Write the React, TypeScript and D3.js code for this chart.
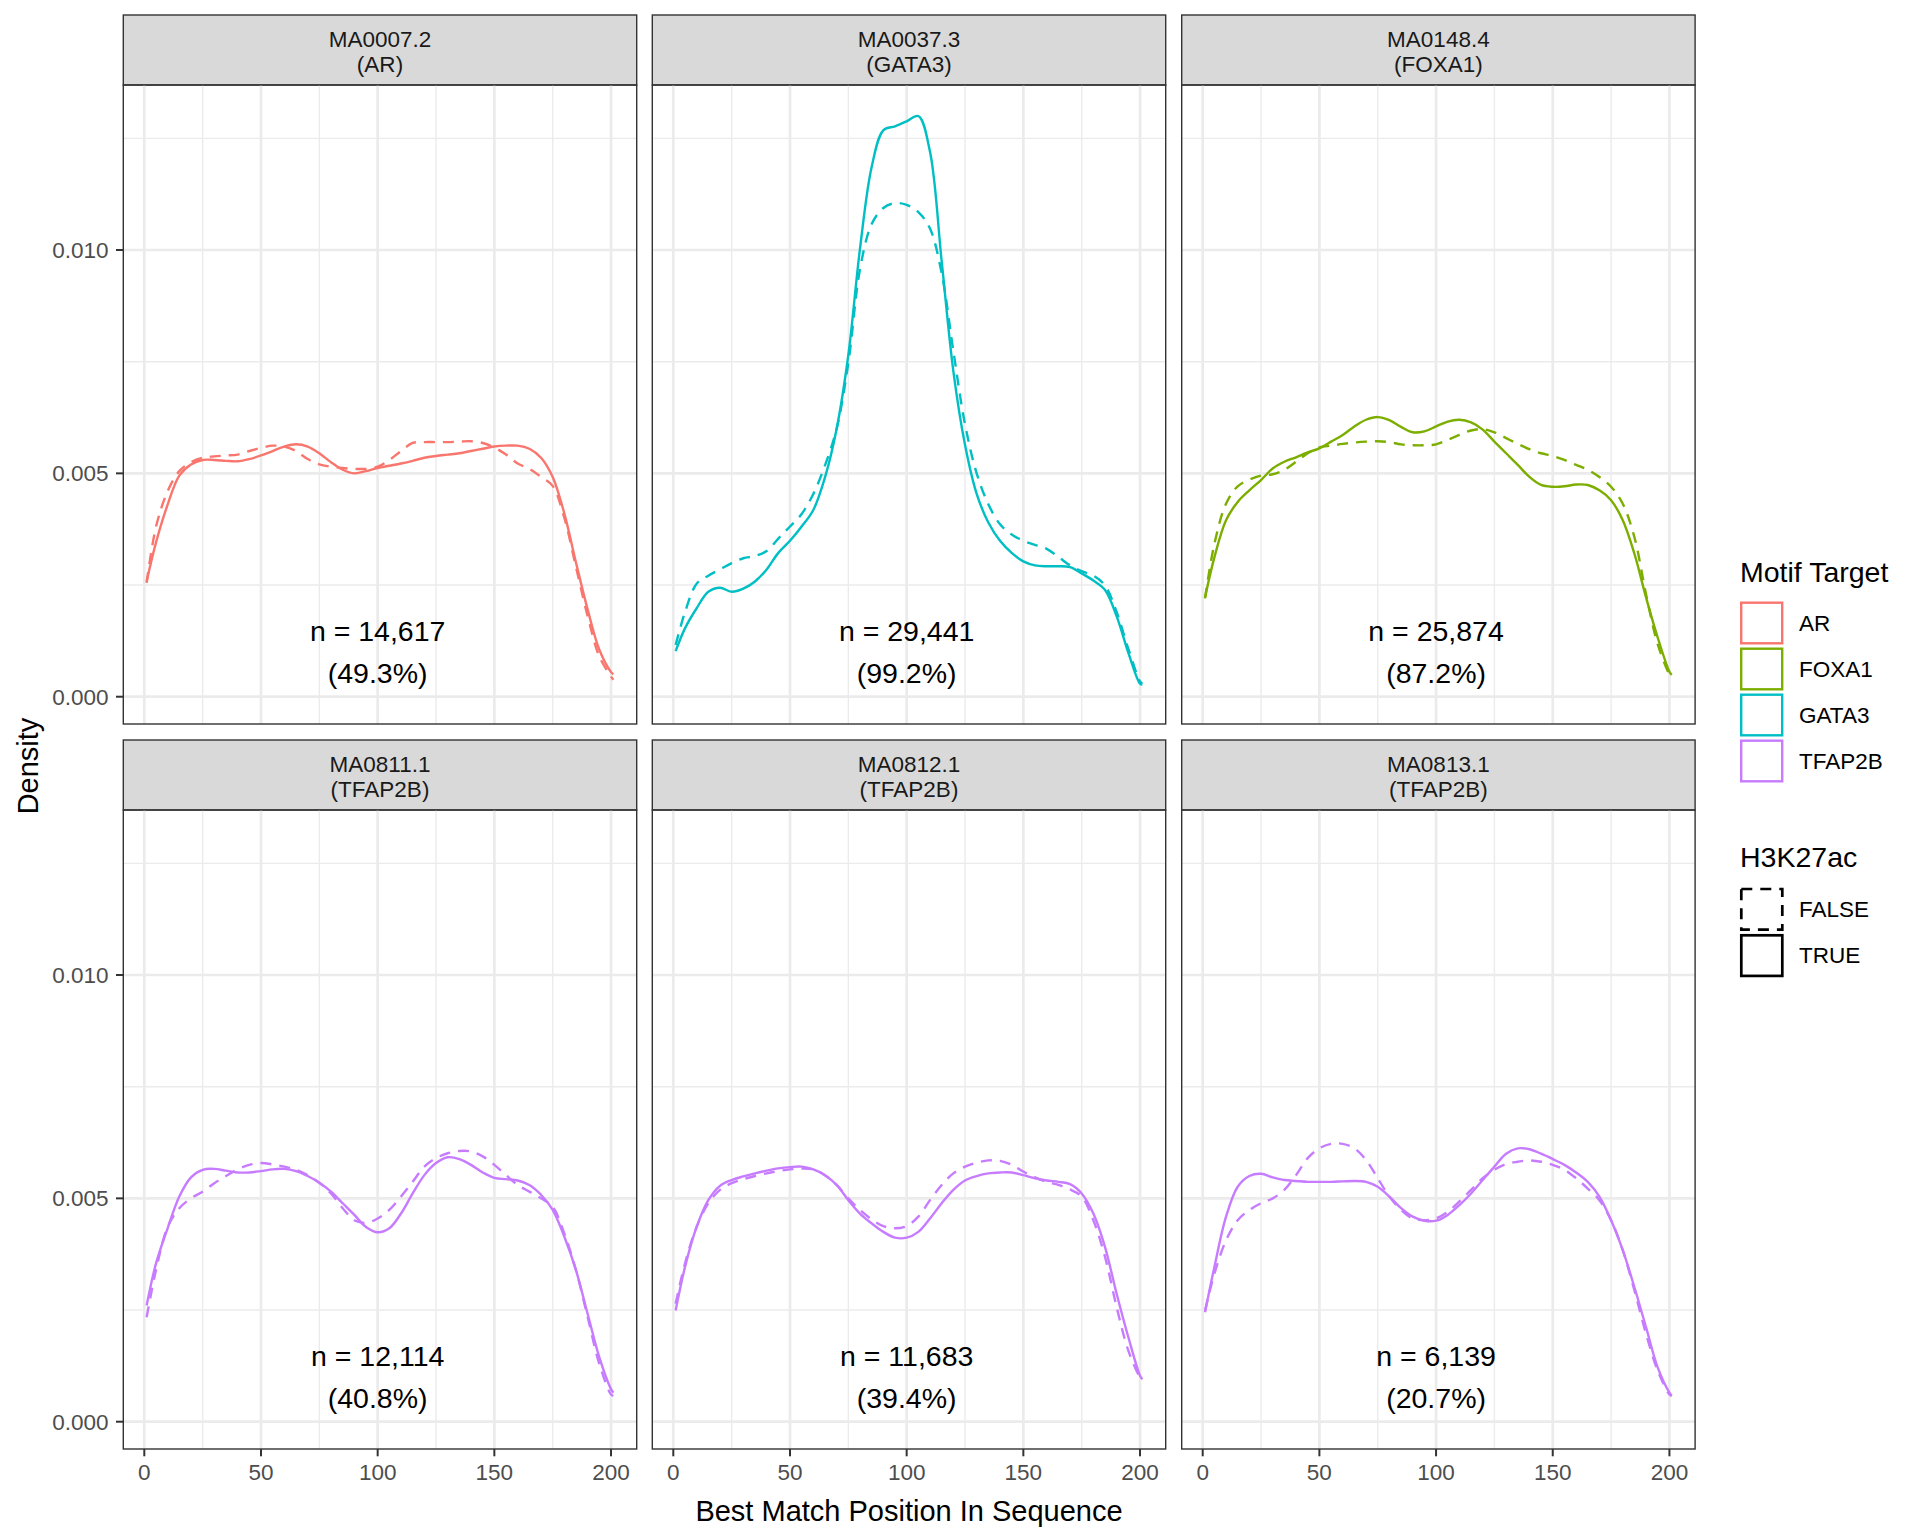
import * as d3 from "d3";

// sequence positions where the density curves were read (x axis)
const positions = [1, 5, 10, 15, 20, 25, 30, 35, 40, 45, 50, 55, 60, 65, 70, 75, 80, 85, 90, 95, 100,
  105, 110, 115, 120, 125, 130, 135, 140, 145, 150, 155, 160, 165, 170, 175, 180, 185, 190, 195, 200, 201];

// densities, in thousandths
const ar_true = [2.58, 3.45, 4.3, 4.95, 5.2, 5.3, 5.3, 5.28, 5.27, 5.32, 5.4, 5.5, 5.6, 5.65, 5.6, 5.45, 5.25, 5.08, 5.0, 5.05, 5.12,
  5.17, 5.22, 5.28, 5.35, 5.39, 5.42, 5.45, 5.5, 5.55, 5.6, 5.62, 5.62, 5.55, 5.35, 4.92, 4.1, 3.0, 1.95, 1.05, 0.55, 0.5];
const ar_false = [2.55, 3.8, 4.6, 5.05, 5.25, 5.35, 5.38, 5.4, 5.42, 5.5, 5.57, 5.62, 5.6, 5.5, 5.32, 5.2, 5.15, 5.12, 5.1, 5.1, 5.15,
  5.3, 5.5, 5.68, 5.7, 5.7, 5.7, 5.71, 5.72, 5.68, 5.58, 5.42, 5.22, 5.1, 4.92, 4.72, 4.0, 2.9, 1.8, 0.9, 0.45, 0.38];
const gata3_true = [1.02, 1.53, 1.98, 2.35, 2.44, 2.35, 2.42, 2.58, 2.85, 3.22, 3.49, 3.81, 4.18, 4.91, 6.0, 7.65, 10.03, 11.86, 12.68, 12.77, 12.88,
  13.0, 12.2, 9.75, 7.29, 5.64, 4.54, 3.9, 3.49, 3.22, 3.03, 2.94, 2.92, 2.92, 2.9, 2.76, 2.6, 2.39, 1.8, 0.98, 0.29, 0.27];
const gata3_false = [1.16, 1.89, 2.53, 2.71, 2.85, 2.99, 3.1, 3.15, 3.26, 3.54, 3.81, 4.09, 4.54, 5.18, 6.0, 7.47, 9.57, 10.58, 10.94, 11.05, 11.01,
  10.85, 10.48, 9.48, 7.74, 6.1, 5.0, 4.31, 3.86, 3.63, 3.49, 3.4, 3.31, 3.13, 2.94, 2.81, 2.71, 2.49, 1.89, 1.07, 0.34, 0.29];
const foxa1_true = [2.22, 3.12, 3.95, 4.36, 4.62, 4.85, 5.11, 5.26, 5.36, 5.47, 5.56, 5.71, 5.86, 6.05, 6.2, 6.26, 6.19, 6.04, 5.92, 5.94, 6.05,
  6.16, 6.2, 6.14, 5.98, 5.71, 5.45, 5.19, 4.92, 4.74, 4.7, 4.71, 4.75, 4.74, 4.62, 4.4, 3.95, 3.2, 2.22, 1.32, 0.56, 0.49];
const foxa1_false = [2.2, 3.42, 4.32, 4.71, 4.86, 4.95, 4.98, 5.08, 5.26, 5.45, 5.58, 5.62, 5.66, 5.69, 5.71, 5.72, 5.7, 5.65, 5.63, 5.63, 5.65,
  5.75, 5.86, 5.96, 5.99, 5.92, 5.79, 5.66, 5.54, 5.45, 5.39, 5.3, 5.19, 5.08, 4.92, 4.7, 4.32, 3.57, 2.29, 1.17, 0.49, 0.41];
const ma0811_true = [2.6, 3.54, 4.33, 5.04, 5.47, 5.64, 5.66, 5.62, 5.58, 5.58, 5.61, 5.65, 5.66, 5.61, 5.5, 5.35, 5.15, 4.89, 4.63, 4.36, 4.24,
  4.33, 4.66, 5.11, 5.52, 5.79, 5.92, 5.88, 5.75, 5.58, 5.46, 5.43, 5.4, 5.3, 5.08, 4.74, 4.14, 3.39, 2.41, 1.44, 0.73, 0.65];
const ma0811_false = [2.34, 3.39, 4.36, 4.78, 5.0, 5.15, 5.34, 5.5, 5.65, 5.75, 5.79, 5.76, 5.71, 5.64, 5.52, 5.35, 5.11, 4.78, 4.51, 4.45, 4.55,
  4.74, 5.04, 5.37, 5.71, 5.9, 6.01, 6.06, 6.05, 5.94, 5.75, 5.52, 5.3, 5.15, 5.0, 4.81, 4.21, 3.39, 2.34, 1.29, 0.61, 0.58];
const ma0812_true = [2.49, 3.46, 4.36, 4.96, 5.28, 5.41, 5.49, 5.56, 5.62, 5.67, 5.7, 5.71, 5.65, 5.52, 5.3, 4.96, 4.66, 4.44, 4.25, 4.12, 4.12,
  4.25, 4.55, 4.89, 5.19, 5.4, 5.5, 5.56, 5.58, 5.58, 5.52, 5.45, 5.4, 5.37, 5.32, 5.11, 4.66, 3.91, 2.86, 1.89, 1.03, 0.95];
const ma0812_false = [2.64, 3.54, 4.36, 4.89, 5.19, 5.34, 5.43, 5.5, 5.56, 5.61, 5.65, 5.67, 5.65, 5.52, 5.3, 5.0, 4.74, 4.53, 4.38, 4.33, 4.38,
  4.59, 4.96, 5.3, 5.56, 5.71, 5.8, 5.85, 5.84, 5.75, 5.6, 5.47, 5.37, 5.3, 5.2, 5.04, 4.51, 3.69, 2.56, 1.59, 0.99, 0.93];
const ma0813_true = [2.45, 3.46, 4.59, 5.26, 5.5, 5.55, 5.47, 5.41, 5.39, 5.37, 5.37, 5.37, 5.38, 5.39, 5.37, 5.26, 5.04, 4.78, 4.59, 4.5, 4.5,
  4.63, 4.85, 5.11, 5.41, 5.71, 6.0, 6.12, 6.1, 6.0, 5.88, 5.75, 5.58, 5.37, 5.04, 4.51, 3.84, 3.01, 2.11, 1.21, 0.65, 0.58];
const ma0813_false = [2.49, 3.31, 4.06, 4.51, 4.74, 4.89, 5.0, 5.19, 5.52, 5.9, 6.12, 6.22, 6.22, 6.12, 5.86, 5.45, 5.04, 4.74, 4.55, 4.51, 4.55,
  4.7, 4.93, 5.19, 5.45, 5.64, 5.77, 5.82, 5.85, 5.82, 5.75, 5.64, 5.45, 5.22, 4.96, 4.51, 3.84, 2.94, 1.96, 1.14, 0.61, 0.58];

// facets
const motifIds = ["MA0007.2", "MA0037.3", "MA0148.4", "MA0811.1", "MA0812.1", "MA0813.1"];
const motifTargets = ["AR", "GATA3", "FOXA1", "TFAP2B", "TFAP2B", "TFAP2B"];
const motifCounts = ["14,617", "29,441", "25,874", "12,114", "11,683", "6,139"];
const motifPercents = ["49.3%", "99.2%", "87.2%", "40.8%", "39.4%", "20.7%"];
const trueSeries = [ar_true, gata3_true, foxa1_true, ma0811_true, ma0812_true, ma0813_true];
const falseSeries = [ar_false, gata3_false, foxa1_false, ma0811_false, ma0812_false, ma0813_false];

// legends
const targetLevels = ["AR", "FOXA1", "GATA3", "TFAP2B"];
const targetColors = ["#F8766D", "#7CAE00", "#00BFC4", "#C77CFF"];
const h3k27acLevels = ["FALSE", "TRUE"];

const xMajor = [0, 50, 100, 150, 200];
const xMinor = [25, 75, 125, 175];
const yMajor = [0, 5, 10];
const yMinor = [2.5, 7.5, 12.5];

const FONT = "'Liberation Sans', Arial, Helvetica, sans-serif";

const colX = [123.3, 652.3, 1181.7];
const panelW = 513.4;
const stripTop = [15, 740];
const stripH = 70;
const panelTop = [85, 810];
const panelH = 639;

const DASH = "11,8";
const LW = 2.4;

function Panel({ i }: { i: number }) {
  const col = i % 3;
  const row = Math.floor(i / 3);
  const left = colX[col];
  const top = panelTop[row];
  const x = d3.scaleLinear().domain([-9, 211]).range([left, left + panelW]);
  const y = d3.scaleLinear().domain([-0.611, 13.694]).range([top + panelH, top]);
  const color = targetColors[targetLevels.indexOf(motifTargets[i])];
  const line = d3
    .line<number>()
    .x((_, k) => x(positions[k]))
    .y((d) => y(d))
    .curve(d3.curveCatmullRom.alpha(0.5));
  const bottom = top + panelH;
  return (
    <g>
      {/* strip */}
      <rect x={left} y={stripTop[row]} width={panelW} height={stripH} fill="#d9d9d9" stroke="#333333" strokeWidth={1.4} />
      <text x={left + panelW / 2} y={stripTop[row] + 32} textAnchor="middle" fontSize={22.5} fill="#1a1a1a">
        {motifIds[i]}
      </text>
      <text x={left + panelW / 2} y={stripTop[row] + 56.5} textAnchor="middle" fontSize={22.5} fill="#1a1a1a">
        ({motifTargets[i]})
      </text>
      {/* grid */}
      {xMinor.map((v) => (
        <line key={"xm" + v} x1={x(v)} x2={x(v)} y1={top} y2={bottom} stroke="#ebebeb" strokeWidth={1.4} />
      ))}
      {yMinor.map((v) => (
        <line key={"ym" + v} x1={left} x2={left + panelW} y1={y(v)} y2={y(v)} stroke="#ebebeb" strokeWidth={1.4} />
      ))}
      {xMajor.map((v) => (
        <line key={"xM" + v} x1={x(v)} x2={x(v)} y1={top} y2={bottom} stroke="#ebebeb" strokeWidth={2.7} />
      ))}
      {yMajor.map((v) => (
        <line key={"yM" + v} x1={left} x2={left + panelW} y1={y(v)} y2={y(v)} stroke="#ebebeb" strokeWidth={2.7} />
      ))}
      {/* densities */}
      <path d={line(falseSeries[i]) || ""} fill="none" stroke={color} strokeWidth={LW} strokeDasharray={DASH} />
      <path d={line(trueSeries[i]) || ""} fill="none" stroke={color} strokeWidth={LW} />
      {/* annotation */}
      <text x={x(100)} y={y(1.254)} textAnchor="middle" fontSize={28.5} fill="#000">
        n = {motifCounts[i]}
      </text>
      <text x={x(100)} y={y(1.254) + 42.6} textAnchor="middle" fontSize={28.5} fill="#000">
        ({motifPercents[i]})
      </text>
      <rect x={left} y={top} width={panelW} height={panelH} fill="none" stroke="#333333" strokeWidth={1.4} />
      {/* y axis on first column */}
      {col === 0 &&
        yMajor.map((v) => (
          <g key={"yt" + v}>
            <line x1={left - 7.3} x2={left} y1={y(v)} y2={y(v)} stroke="#333333" strokeWidth={2} />
            <text x={left - 14.8} y={y(v)} dy="0.35em" textAnchor="end" fontSize={22.5} fill="#4d4d4d">
              {(v / 1000).toFixed(3)}
            </text>
          </g>
        ))}
      {/* x axis on bottom row */}
      {row === 1 &&
        xMajor.map((v) => (
          <g key={"xt" + v}>
            <line x1={x(v)} x2={x(v)} y1={bottom} y2={bottom + 7.3} stroke="#333333" strokeWidth={2} />
            <text x={x(v)} y={bottom + 30.5} textAnchor="middle" fontSize={22.5} fill="#4d4d4d">
              {v}
            </text>
          </g>
        ))}
    </g>
  );
}

export default function App() {
  return (
    <svg
      width={1920}
      height={1536}
      style={{ position: "absolute", left: 0, top: 0, background: "#fff" }}
      fontFamily={FONT}
    >
      <rect width={1920} height={1536} fill="#fff" />
      {motifIds.map((_, i) => (
        <Panel key={i} i={i} />
      ))}
      {/* axis titles */}
      <text x={909} y={1521} textAnchor="middle" fontSize={29} fill="#000">
        Best Match Position In Sequence
      </text>
      <text transform="translate(37.5,766) rotate(-90)" textAnchor="middle" fontSize={29} fill="#000">
        Density
      </text>
      {/* colour legend */}
      <text x={1740} y={581.7} fontSize={28.5} fill="#000">
        Motif Target
      </text>
      {targetLevels.map((lv, k) => (
        <g key={lv}>
          <rect x={1741.2} y={602.7 + 46 * k} width={41} height={40.6} fill="none" stroke={targetColors[k]} strokeWidth={LW} />
          <text x={1799} y={623 + 46 * k} dy="0.35em" fontSize={22.5} fill="#000">
            {lv}
          </text>
        </g>
      ))}
      {/* linetype legend */}
      <text x={1740} y={867} fontSize={28.5} fill="#000">
        H3K27ac
      </text>
      {h3k27acLevels.map((lv, k) => (
        <g key={lv}>
          <rect
            x={1741.3}
            y={889 + 46.3 * k}
            width={41}
            height={40.6}
            fill="none"
            stroke="#000"
            strokeWidth={2.7}
            strokeDasharray={lv === "FALSE" ? DASH : undefined}
          />
          <text x={1799} y={909.3 + 46.3 * k} dy="0.35em" fontSize={22.5} fill="#000">
            {lv}
          </text>
        </g>
      ))}
    </svg>
  );
}
